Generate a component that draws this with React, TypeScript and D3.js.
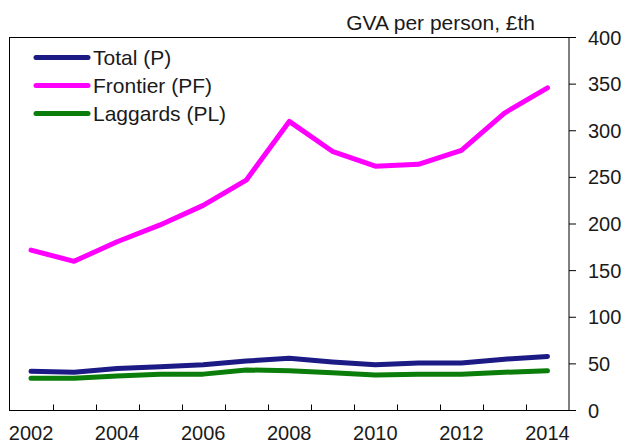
import React from "react";
import * as d3 from "d3";

const years = ["2002","2003","2004","2005","2006","2007","2008","2009","2010","2011","2012","2013","2014"];
const totalP = [42, 41, 45, 47, 49, 53, 56, 52, 49, 51, 51, 55, 58];
const frontierPF = [172, 160, 181, 199, 220, 247, 310, 278, 262, 264, 279, 319, 346];
const laggardsPL = [34.5, 34.5, 37, 39, 39, 43.5, 42.5, 40.5, 38, 39, 39, 41, 42.5];
const yTicks = [0, 50, 100, 150, 200, 250, 300, 350, 400];
const seriesNames = ["Total (P)", "Frontier (PF)", "Laggards (PL)"];

const W = 627, H = 443;
const left = 9.5, right = 569, top = 37.5, bottom = 410.5;
const font = "'Liberation Sans', Arial, sans-serif";

export default function App() {
  const x = d3.scaleBand<string>().domain(years).range([left, right]).padding(0);
  const y = d3.scaleLinear().domain([0, 400]).range([bottom, top]);
  const line = d3.line<number>()
    .x((_, i) => (x(years[i]) as number) + x.bandwidth() / 2)
    .y((d) => y(d));
  const series = [
    { name: seriesNames[0], data: totalP, color: "#1c1a85" },
    { name: seriesNames[1], data: frontierPF, color: "#ff00ff" },
    { name: seriesNames[2], data: laggardsPL, color: "#0a7d0a" },
  ];
  const boundaries = years.slice(1).map((yr) => x(yr) as number);
  return (
    <svg width={W} height={H} style={{ position: "absolute", left: 0, top: 0 }} fontFamily={font}>
      <rect x={0} y={0} width={W} height={H} fill="#fff" />
      {/* frame */}
      <rect x={left} y={top} width={right - left} height={bottom - top} fill="none" stroke="#000" strokeWidth={1} />
      {/* x ticks (inward) */}
      {boundaries.map((bx, i) => (
        <line key={i} x1={Math.round(bx) + 0.5} x2={Math.round(bx) + 0.5} y1={bottom} y2={bottom - 6} stroke="#000" strokeWidth={1} />
      ))}
      {/* y ticks (outward, right) */}
      {yTicks.map((t) => (
        <g key={t}>
          <line x1={right} x2={right + 7} y1={y(t)} y2={y(t)} stroke="#000" strokeWidth={1} />
          <text x={588} y={y(t)} dy="0.35em" fontSize={20} fill="#1a1a1a">{t}</text>
        </g>
      ))}
      {/* x labels */}
      {years.filter((_, i) => i % 2 === 0).map((yr) => (
        <text key={yr} x={(x(yr) as number) + x.bandwidth() / 2} y={440} textAnchor="middle" fontSize={20} fill="#1a1a1a">{yr}</text>
      ))}
      {/* title */}
      <text x={535} y={30} textAnchor="end" fontSize={21} fill="#1a1a1a">GVA per person, £th</text>
      {/* lines */}
      {series.map((s) => (
        <path key={s.name} d={line(s.data) || ""} fill="none" stroke={s.color} strokeWidth={5} strokeLinejoin="round" strokeLinecap="round" />
      ))}
      {/* legend */}
      {series.map((s, i) => (
        <g key={s.name} transform={`translate(0, ${57.5 + i * 28})`}>
          <line x1={36} x2={88} y1={0} y2={0} stroke={s.color} strokeWidth={5} strokeLinecap="round" />
          <text x={93} y={0} dy="0.35em" fontSize={21} fill="#1a1a1a">{s.name}</text>
        </g>
      ))}
    </svg>
  );
}
